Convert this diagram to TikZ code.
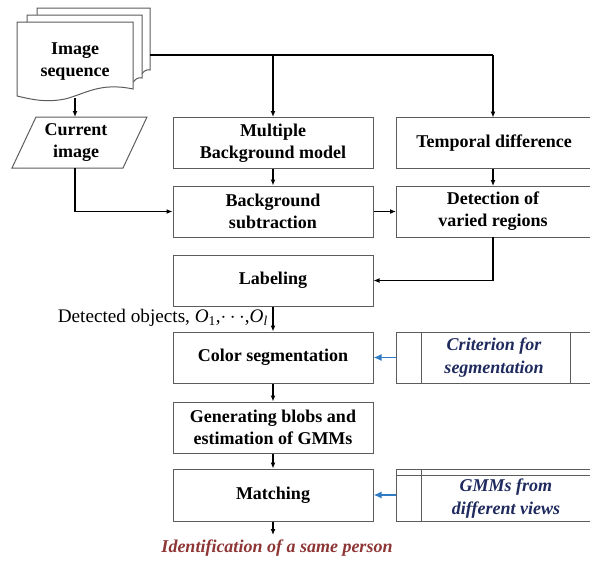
\documentclass[tikz,border=0pt]{standalone}
\usepackage{fontspec}
\setmainfont{Liberation Serif}
\usetikzlibrary{arrows.meta}
\definecolor{boxline}{HTML}{5C5C5C}
\definecolor{navyink}{HTML}{1F2A5E}
\definecolor{wineink}{HTML}{8E3535}
\definecolor{feedblue}{HTML}{2F7BC6}
\begin{document}
\begin{tikzpicture}[x=1pt,y=-1pt,
  every node/.style={inner sep=0pt},
  proc/.style={draw=boxline, line width=1pt, fill=white, align=center,
    font=\fontsize{18}{22}\selectfont\bfseries},
  boldtext/.style={align=center, font=\fontsize{18}{22}\selectfont\bfseries},
  sidebox/.style={align=center, text=navyink,
    font=\fontsize{18}{23}\selectfont\bfseries\itshape},
  flow/.style={line width=1.2pt, -{Latex[length=6pt,width=5pt]}},
  link/.style={line width=1.2pt},
  feed/.style={line width=1.8pt, draw=feedblue, -{Latex[length=8pt,width=7pt]}},
  page/.style={draw=boxline, line width=1pt, fill=white},
]
\useasboundingbox (0,0) rectangle (590,563);
\clip (0,0) rectangle (590,563);

% stacked document: image sequence
\draw[page] (37,8) -- (150,8) -- (150,70) .. controls (146,69) and (143,72) .. (142,74) -- (37,74) -- cycle;
\draw[page] (27,15) -- (142,15) -- (142,78) .. controls (137,77) and (135,80) .. (133,82) -- (27,82) -- cycle;
\draw[page] (17,22) -- (133,22) -- (133,89)
  .. controls (100,82) and (85,94) .. (65,99)
  .. controls (45,103) and (30,99) .. (17,96) -- cycle;
\node[boldtext] (seq) at (75,62) {Image\\sequence};
\coordinate (seqout) at (150,55);
\coordinate (seqbot) at (75,98);

% current image (parallelogram)
\draw[page] (36,117) -- (147,117) -- (123,168) -- (12,168) -- cycle;
\node[boldtext, minimum width=112pt, minimum height=51pt] (cur) at (76,142.5) {Current\\image};

% main column
\node[proc, minimum width=200pt, minimum height=51pt] (mbm) at (273,143) {Multiple\\Background model};
\node[proc, minimum width=200pt, minimum height=51pt] (bs)  at (273,211.5) {Background\\subtraction};
\node[proc, minimum width=200pt, minimum height=51pt] (lab) at (273,280.5) {Labeling};
\node[proc, minimum width=200pt, minimum height=51pt] (cs)  at (273,357.5) {Color segmentation};
\node[proc, minimum width=200pt, minimum height=51pt] (gb)  at (273,427.5) {Generating blobs and\\estimation of GMMs};
\node[proc, minimum width=200pt, minimum height=52pt] (mt)  at (273,495) {Matching};

% right column (runs past the right edge)
\node[proc, minimum width=198pt, minimum height=51pt] (td)  at (495,143) {};
\node[boldtext] (tdt) at (494,143) {Temporal difference};
\node[proc, minimum width=198pt, minimum height=51pt] (dvr) at (495,211.5) {};
\node[boldtext] (dvrt) at (493,211.5) {Detection of\\varied regions};

% predefined input: criterion for segmentation
\draw[page] (396,332) rectangle (598,383);
\draw[boxline, line width=1pt] (421,332) -- (421,383) (570,332) -- (570,383);
\node[sidebox] (crit) at (494,358) {Criterion for\\segmentation};
\coordinate (critin) at (396,357.5);

% stored input: GMMs from different views
\draw[page] (396,469) rectangle (598,521);
\draw[boxline, line width=1pt] (396,475) -- (598,475) (421,469) -- (421,521);
\node[sidebox] (gmm) at (506,499) {GMMs from\\different views};
\coordinate (gmmin) at (396,495);

% connectors
\draw[link] (seqout) -| (493,55);
\draw[flow] (273,55) -- (mbm.north);
\draw[flow] (493,55) -- (493,117.5);
\draw[flow] (seqbot) -- (75,117);
\draw[flow] (75,168) |- (bs.west);
\draw[flow] (mbm) -- (bs);
\draw[flow] (493,168.5) -- (493,186);
\draw[flow] (bs.east) -- (396,211.5);
\draw[flow] (493,237) |- (lab.east);
\draw[flow] (lab) -- (cs);
\draw[flow] (cs) -- (gb);
\draw[flow] (gb) -- (mt);
\coordinate (out) at (273,535);
\draw[flow] (mt.south) -- (out);
\draw[feed] (critin) -- (cs.east);
\draw[feed] (gmmin) -- (mt.east);

% labels
\node[anchor=east, font=\fontsize{19.2}{22}\selectfont] (det) at (268,318)
  {Detected objects, \textit{O}\textsubscript{1},$\cdots$,\textit{O}\textsubscript{\textit{l}}};
\node[text=wineink, font=\fontsize{18}{22}\selectfont\bfseries\itshape] (ident) at (277,548)
  {Identification of a same person};
\end{tikzpicture}
\end{document}
